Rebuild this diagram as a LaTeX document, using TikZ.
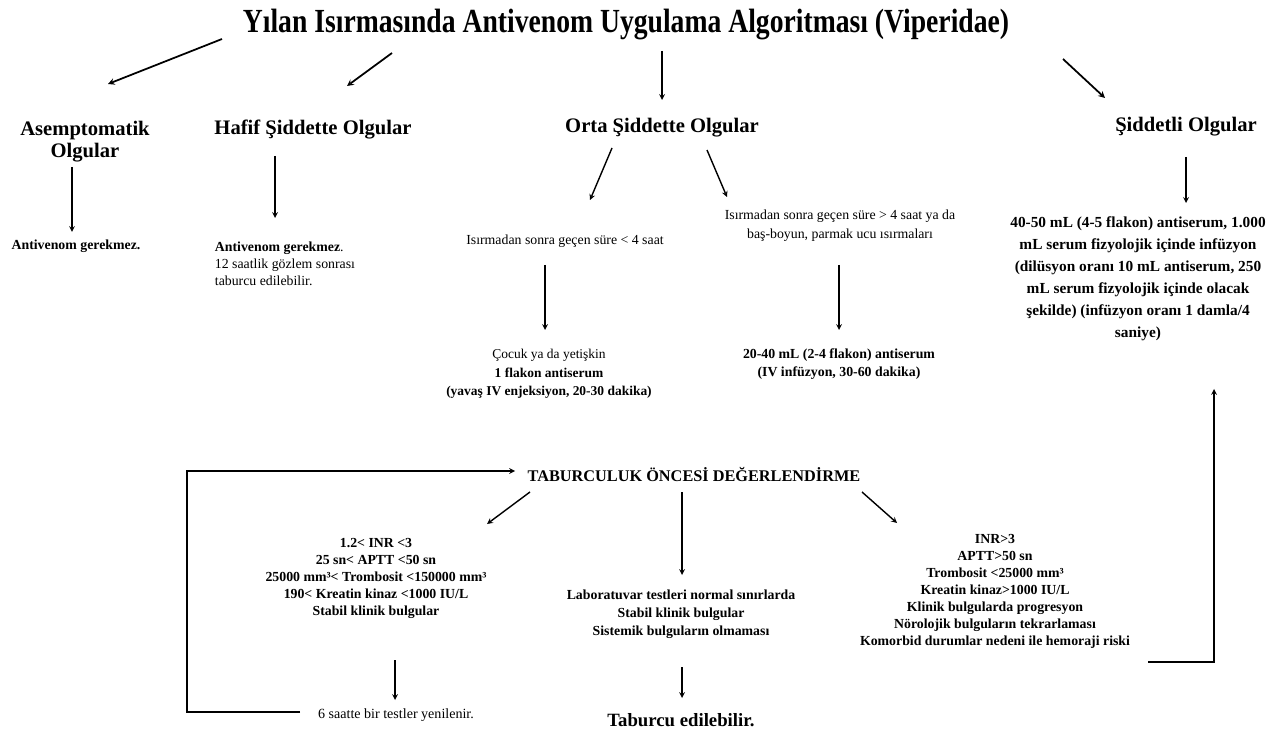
\documentclass[tikz,border=0pt]{standalone}
\usepackage{fontspec}
\setmainfont{Liberation Serif}
\usetikzlibrary{arrows, positioning}

\begin{document}
\begin{tikzpicture}[
    x=0.03cm, y=-0.03cm,
    every node/.style={inner sep=0pt, align=center},
    head/.style={font=\fontsize{17.6}{18.8}\selectfont\bfseries},
    note/.style={font=\fontsize{11.8}{14.5}\selectfont},
    bnote/.style={font=\fontsize{11.8}{14.5}\selectfont\bfseries},
    arrow/.style={->, >=stealth, line width=1.2pt}
]
\useasboundingbox (0,0) rectangle (1274,736);

% title and the four groups
\node[font=\fontsize{23.6}{28}\selectfont\bfseries] (title) at (626,25) {\scalebox{1}[1.22]{Yılan Isırmasında Antivenom Uygulama Algoritması (Viperidae)}};

\node[head] (asym) at (85,142) {Asemptomatik\\Olgular};
\node[head] (mild) at (313,130) {Hafif Şiddette Olgular};
\node[head] (orta) at (662,128) {Orta Şiddette Olgular};
\node[head] (sev) at (1186,127) {Şiddetli Olgular};

\draw[arrow, line width=1.5pt] ([shift={(-404,14)}]title.center) -- ([shift={(23,-58)}]asym.center);
\draw[arrow, line width=1.5pt] ([shift={(-234,28)}]title.center) -- ([shift={(34,-44)}]mild.center);
\draw[arrow] ([shift={(36,26)}]title.center) -- ([shift={(0,-28)}]orta.center);
\draw[arrow, line width=1.5pt] ([shift={(437,34)}]title.center) -- ([shift={(-81,-29)}]sev.center);

% first level results
\node[bnote] (asymtx) at (76,246) {Antivenom gerekmez.};
\node[note, align=left] (mildtx) at (285,264) {\textbf{Antivenom gerekmez}.\\12 saatlik gözlem sonrası\\taburcu edilebilir.};
\node[note] (lt4) at (565,241) {Isırmadan sonra geçen süre < 4 saat};
\node[note, font=\fontsize{11.8}{16.2}\selectfont] (gt4) at (840,226) {Isırmadan sonra geçen süre > 4 saat ya da\\baş-boyun, parmak ucu ısırmaları};
\node[font=\fontsize{13.1}{18.8}\selectfont\bfseries] (sevtx) at (1138,279) {40-50 mL (4-5 flakon) antiserum, 1.000\\mL serum fizyolojik içinde infüzyon\\(dilüsyon oranı 10 mL antiserum, 250\\mL serum fizyolojik içinde olacak\\şekilde) (infüzyon oranı 1 damla/4\\saniye)};

\draw[arrow] ([shift={(-13,25)}]asym.center) -- ([shift={(-4,-14)}]asymtx.center);
\draw[arrow] ([shift={(-38,26)}]mild.center) -- ([shift={(-10,-46)}]mildtx.center);
\draw[arrow] ([shift={(-50,20)}]orta.center) -- ([shift={(25,-41)}]lt4.center);
\draw[arrow] ([shift={(45,22)}]orta.center) -- ([shift={(-113,-29)}]gt4.center);
\draw[arrow] ([shift={(0,30)}]sev.center) -- ([shift={(48,-76)}]sevtx.center);

% doses for moderate cases
\node[font=\fontsize{11.5}{15.8}\selectfont] (child) at (549,374) {Çocuk ya da yetişkin\\\textbf{1 flakon antiserum}\\\textbf{(yavaş IV enjeksiyon, 20-30 dakika)}};
\node[bnote, font=\fontsize{11.8}{15.4}\selectfont\bfseries] (adult) at (839,364) {20-40 mL (2-4 flakon) antiserum\\(IV infüzyon, 30-60 dakika)};

\draw[arrow] ([shift={(-20,24)}]lt4.center) -- ([shift={(-4,-44)}]child.center);
\draw[arrow] ([shift={(-1,39)}]gt4.center) -- ([shift={(0,-34)}]adult.center);

% discharge evaluation
\node[font=\fontsize{13.9}{16}\selectfont\bfseries] (disch) at (694,475) {TABURCULUK ÖNCESİ DEĞERLENDİRME};

\node[bnote] (mod) at (376,578) {1.2< INR <3\\25 sn< APTT <50 sn\\25000 mm³< Trombosit <150000 mm³\\190< Kreatin kinaz <1000 IU/L\\Stabil klinik bulgular};
\node[bnote, font=\fontsize{11.8}{15.4}\selectfont\bfseries] (norm) at (681,614) {Laboratuvar testleri normal sınırlarda\\Stabil klinik bulgular\\Sistemik bulguların olmaması};
\node[bnote] (worse) at (995,591) {INR>3\\APTT>50 sn\\Trombosit <25000 mm³\\Kreatin kinaz>1000 IU/L\\Klinik bulgularda progresyon\\Nörolojik bulguların tekrarlaması\\Komorbid durumlar nedeni ile hemoraji riski};

\draw[arrow] ([shift={(-164,17)}]disch.center) -- ([shift={(111,-54)}]mod.center);
\draw[arrow] ([shift={(-12,17)}]disch.center) -- ([shift={(1,-39)}]norm.center);
\draw[arrow] ([shift={(168,17)}]disch.center) -- ([shift={(-98,-68)}]worse.center);

\node[note, font=\fontsize{12}{14}\selectfont] (retest) at (396,715) {6 saatte bir testler yenilenir.};
\node[font=\fontsize{16}{18}\selectfont\bfseries] (done) at (681,720) {Taburcu edilebilir.};

\draw[arrow] ([shift={(19,82)}]mod.center) -- ([shift={(-1,-15)}]retest.center);
\draw[arrow] ([shift={(1,53)}]norm.center) -- ([shift={(1,-22)}]done.center);

% loops back
\draw[arrow] ([shift={(-96,-3)}]retest.center) -- ++(-113,0) |- ([shift={(-179,-4)}]disch.center);
\draw[arrow] ([shift={(153,71)}]worse.center) -| ([shift={(76,110)}]sevtx.center);

\end{tikzpicture}
\end{document}
